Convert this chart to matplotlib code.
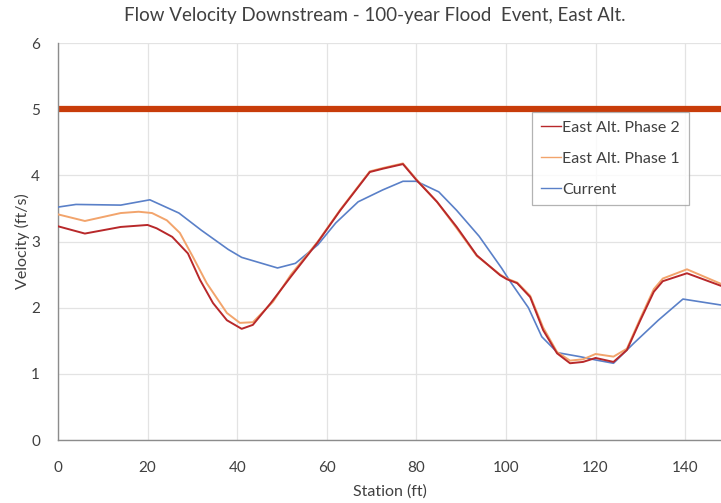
import matplotlib
matplotlib.use("Agg")
import matplotlib.pyplot as plt

plt.rcParams['font.family'] = ['Lato', 'DejaVu Sans']

title = "Flow Velocity Downstream - 100-year Flood  Event, East Alt."
x_label = "Station (ft)"
y_label = "Velocity (ft/s)"

limit_value = 5.0

current_x = [0, 4, 14, 20.5, 27, 32, 38, 41, 45, 49, 53, 58, 62, 67, 72.5, 77, 80, 85, 89, 94,
             99, 101, 105, 108, 111.5, 116.5, 120, 124, 128.5, 134, 139.5, 148]
current_y = [3.52, 3.56, 3.55, 3.63, 3.43, 3.17, 2.88, 2.76, 2.68, 2.60, 2.67, 2.95, 3.28, 3.6,
             3.78, 3.91, 3.91, 3.75, 3.47, 3.08, 2.6, 2.39, 2.0, 1.56, 1.32, 1.26, 1.21, 1.16,
             1.46, 1.81, 2.13, 2.04]

phase2_x = [0, 6, 14, 20, 22, 25.5, 29, 31.7, 34.6, 37.7, 41, 43.5, 47.5, 52, 58, 63, 69.6, 72.5,
            77, 80, 84.6, 89, 93.5, 98.7, 100.2, 102.5, 105.4, 108.3, 111.4, 114.3, 117.2, 120,
            124, 127, 130, 133, 135, 140.4, 148]
phase2_y = [3.23, 3.12, 3.22, 3.25, 3.2, 3.07, 2.82, 2.42, 2.07, 1.81, 1.68, 1.74, 2.07, 2.47,
            2.99, 3.47, 4.05, 4.1, 4.17, 3.93, 3.6, 3.22, 2.79, 2.49, 2.43, 2.37, 2.16, 1.66,
            1.31, 1.16, 1.18, 1.24, 1.18, 1.36, 1.81, 2.24, 2.4, 2.52, 2.33]

phase1_x = [0, 6, 14, 18, 21, 24.3, 27.2, 30.1, 33.2, 37.7, 40.6, 43.5, 48, 52, 58, 63, 69.6,
            72.5, 77, 80, 84.6, 89, 93.5, 98.7, 100.2, 102.5, 105.4, 108.3, 111.4, 114.3, 117.2,
            120, 124, 127, 130, 133, 135, 140.4, 148]
phase1_y = [3.41, 3.31, 3.43, 3.45, 3.43, 3.32, 3.13, 2.77, 2.37, 1.92, 1.77, 1.78, 2.09, 2.5,
            3.0, 3.48, 4.06, 4.11, 4.18, 3.94, 3.6, 3.2, 2.78, 2.5, 2.44, 2.38, 2.18, 1.7, 1.33,
            1.2, 1.22, 1.30, 1.26, 1.38, 1.84, 2.28, 2.44, 2.58, 2.36]

x_ticks = [0, 20, 40, 60, 80, 100, 120, 140]
y_ticks = [0, 1, 2, 3, 4, 5, 6]

fig = plt.figure(figsize=(7.21, 5.03), dpi=100)
ax = fig.add_axes([58/721, 1-440/503, 1-58/721, (440-43)/503])

ax.axhline(limit_value, color='#c83c0a', lw=4.5, zorder=2, xmin=0.005)
l2, = ax.plot(phase2_x, phase2_y, color='#b8282a', lw=1.4, label='East Alt. Phase 2', zorder=5)
l1, = ax.plot(phase1_x, phase1_y, color='#f2a46c', lw=1.4, label='East Alt. Phase 1', zorder=4)
lc, = ax.plot(current_x, current_y, color='#5a80c8', lw=1.2, label='Current', zorder=3)

ax.set_xlim(0, 148)
ax.set_ylim(0, 6)
ax.set_xticks(x_ticks)
ax.set_yticks(y_ticks)
ax.grid(True, color='#e3e3e3', lw=0.9)
ax.set_axisbelow(True)
for s in ['top', 'right']:
    ax.spines[s].set_visible(False)
for s in ['left', 'bottom']:
    ax.spines[s].set_color('#8c8c8c')
    ax.spines[s].set_linewidth(1.0)
ax.tick_params(axis='x', length=0, labelsize=11, colors='#404040', pad=15)
ax.tick_params(axis='y', length=0, labelsize=11, colors='#404040', pad=13)

ax.set_xlabel(x_label, fontsize=11.5, color='#404040', labelpad=7)
ax.set_ylabel(y_label, fontsize=11.5, color='#404040', labelpad=1)
fig.text(375/721, 1-15/503, title, ha='center', va='center', fontsize=13.5, color='#404040')

leg = ax.legend(handles=[l2, l1, lc], loc='upper left', bbox_to_anchor=(0.715, 0.827),
                frameon=True, fancybox=False, fontsize=11.5, handlelength=1.25,
                handletextpad=0.1, labelspacing=1.05, borderpad=0.55, borderaxespad=0,
                labelcolor='#404040')
leg.get_frame().set_edgecolor('#a0a0a0')
leg.get_frame().set_linewidth(0.9)
for h in leg.legend_handles:
    h.set_linewidth(1.0)

fig.savefig('out.png', dpi=100)
